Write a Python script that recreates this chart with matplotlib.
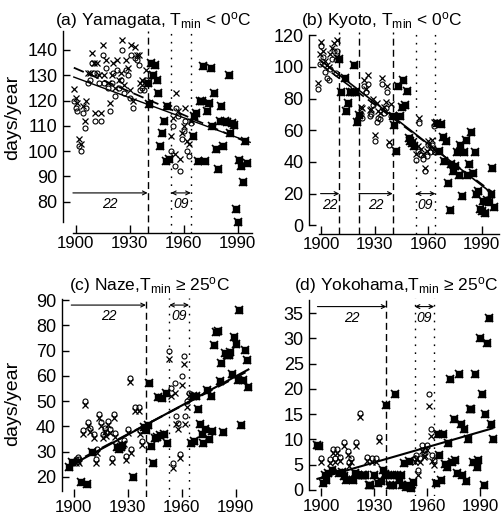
import numpy as np
import matplotlib.pyplot as plt

plt.rcParams['font.family'] = ['Liberation Sans', 'DejaVu Sans']
plt.rcParams['mathtext.fontset'] = 'custom'
plt.rcParams['mathtext.rm'] = 'Liberation Sans'
plt.rcParams['mathtext.it'] = 'Liberation Sans:italic'

# ---------------- (a) Yamagata, Tmin < 0 C ----------------
a_yrs1 = np.arange(1899, 1940)
a_x1 = [124.5, 121, 119, 105, 103, 118, 112, 120, 131, 131, 139, 135, 115, 135, 130,
        115, 142, 130, 136, 127, 119, 130, 135, 125, 136, 128, 131, 144, 126, 136,
        133, 124, 142, 120, 141, 138, 138, 127, 128, 127, 132]
a_o1 = [120, 117, 116, 102, 100, 115, 109, 117, 127, 128, 135, 131, 112, 131, 127,
        112, 138, 127, 133, 125, 116, 127, 131, 122, 132, 125, 128, 140, 123, 132,
        130, 121, 138, 117, 137, 136, 134, 124, 125, 124, 128]
a_yrs2 = np.arange(1953, 1965)
a_x2 = [106, 113, 99, 123, 116, 97, 107, 110, 117, 104, 103, 112]
a_o2 = [100, 110, 94, 117, 114, 92, 105, 108, 112, 100, 98, 111]
a_sq_yrs = list(range(1940, 1953)) + list(range(1965, 1996))
a_sq = [127, 118.5, 135, 130, 134, 128, 123, 102, 107, 112, 96, 118, 97,
        106, 114, 115, 96, 120, 120, 133.5, 96, 116, 119, 133, 110, 123, 101, 93,
        112, 118, 102, 112, 111.5, 130, 107, 111, 110.5, 77, 72, 96.5, 94, 88, 104, 95.5]
a_trend_yrs = [1899, 1997]
a_trend_solid = [129.3, 103.5]
a_trend_dash = [133, 103]

# ---------------- (b) Kyoto, Tmin < 0 C ----------------
b_yrs1 = list(range(1898, 1910)) + list(range(1922, 1940))
b_x1 = [90, 108, 116, 110, 104, 101, 100, 108, 112, 115, 106, 117,
        75, 74, 92, 86, 95, 73, 73.5, 80, 57, 77, 72, 71, 93, 75, 78, 88, 52.5, 76.5]
b_o1 = [86, 102, 113, 106, 97, 93, 92, 99, 105, 110, 96, 110,
        70, 68, 88, 84, 89, 69, 70, 76, 53, 65, 68, 67, 89, 71, 74, 84, 51, 69]
b_yrs2 = np.arange(1953, 1965)
b_x2 = [45, 50, 67.5, 48, 45, 36, 47, 53, 49, 54, 65, 47]
b_o2 = [41.5, 47, 64.5, 44.5, 42, 34, 44, 51, 46, 51, 62.5, 46]
b_sq_yrs = ([1910, 1911, 1913, 1914, 1915, 1916, 1917, 1918, 1919, 1920, 1921]
            + list(range(1940, 1953)) + list(range(1965, 1998)))
b_sq = [105, 84, 93, 72, 77, 84, 84, 101.5, 84, 65.5, 69.5,
        69, 63.5, 47, 88, 69, 75, 92, 76, 85, 55, 53, 52, 50,
        64.5, 47, 64, 56, 40.5, 53.5, 27, 9.5, 38.5, 34.5, 37.5, 46, 32, 51, 18.5, 46,
        54, 32, 38.5, 59, 33, 46, 19.5, 21.5, 10, 9, 15.5, 8, 16, 14.5, 20, 36, 11.5]
b_trend_yrs = [1899, 1996]
b_trend_solid = [104.5, 20]
b_trend_dash = [102, 21]

# ---------------- (c) Naze, Tmin >= 25 C ----------------
c_yrs1 = [1901, 1902, 1903, 1905, 1906, 1908, 1909, 1911, 1912, 1913, 1914, 1915,
          1916, 1917, 1918, 1919, 1920, 1921, 1922, 1923, 1928, 1929, 1930, 1931,
          1932, 1934, 1936, 1937, 1938]
c_x1 = [25.3, 26.4, 25.5, 36.9, 48.4, 40.1, 37.8, 35.2, 25.3, 29.3, 43.1, 40.1,
        35.2, 37.8, 36, 40.5, 37.2, 26, 43.1, 35.8, 33, 26.6, 37.4, 57.6,
        29.3, 46.1, 46.1, 37, 32.5]
c_o1 = [27, 28, 27, 38.5, 50, 41.7, 39.4, 36.8, 27, 31, 44.7, 41.7,
        36.8, 39.4, 37.6, 42, 38.8, 27.6, 44.7, 37.4, 34.6, 28.2, 39, 59.2,
        31, 47.7, 47.7, 38.6, 34]
c_yrs2 = np.arange(1953, 1965)
c_x2 = [66.5, 52, 23.5, 53, 41, 39, 27.5, 56.5, 64.5, 41, 47.5, 52]
c_o2 = [70, 55, 25.5, 57, 44, 41.5, 29, 60, 68, 44, 50, 53]
c_sq_yrs = ([1897, 1899, 1904, 1907, 1910, 1924, 1925, 1926, 1927, 1933, 1939]
            + list(range(1940, 1953)) + list(range(1965, 1998)))
c_sq = [24, 26, 18, 17.3, 30, 31.9, 31.2, 31.9, 32.5, 19.8, 39.8,
        38.5, 40.5, 57.2, 32.2, 25.3, 35.5, 35.8, 51.7, 36.5, 51.4, 36.9, 53, 33.2,
        33.5, 52, 34, 52, 47, 41, 37, 33.2, 39, 54.3, 35, 52, 38, 72.2, 77.4, 77.8,
        58, 65.2, 37.8, 68.9, 68.2, 68.2, 69.5, 60.9, 75.5, 72.6, 58.5, 86, 40.5,
        58.3, 70.2, 66.2, 55.6]
c_trend_yrs = [1897, 1997]
c_trend_solid = [24, 62.5]
c_trend_dash = [24.5, 62]

# ---------------- (d) Yokohama, Tmin >= 25 C ----------------
d_yrs1 = [1900, 1905, 1907, 1908, 1909, 1911, 1913, 1915, 1916, 1917, 1920, 1922,
          1926, 1929, 1931, 1933]
d_x1 = [5.6, 5.4, 7.4, 5.6, 7.4, 5.8, 8.7, 6.9, 4.8, 5.6, 8.7, 14.4,
        5.8, 5.6, 5.6, 9.6]
d_o1 = [6.4, 6.2, 8.2, 6.4, 8.2, 6.6, 9.5, 7.7, 5.6, 6.4, 9.5, 15.2,
        6.6, 6.4, 6.4, 10.4]
d_yrs2 = np.arange(1953, 1965)
d_x2 = [5.5, 6.2, 3, 5.6, 7.8, 6.5, 6.8, 8, 16.6, 10.6, 5.8, 5]
d_o2 = [6.3, 7, 4, 6.4, 8.9, 7.3, 7.9, 8.9, 19, 12, 7, 6]
d_sq_yrs = ([1898, 1899, 1901, 1902, 1903, 1904, 1906, 1910, 1912, 1913, 1914, 1918,
             1919, 1921, 1923, 1924, 1925, 1927, 1928, 1930, 1932, 1934, 1935, 1936]
            + list(range(1937, 1953)) + list(range(1965, 1998)))
d_sq = [8.9, 8.7, 1.3, 3, 2, 3.4, 4, 3.4, 3.6, 2.8, 2, 2,
        3.3, 3, 3, 3, 3, 1, 1, 3, 1.3, 1.7, 4, 3.2,
        16.8, 3, 1, 2.9, 1, 19, 3, 2, 3, 1, 5.3, 0.5, 1, 5.7, 0.3, 1.5,
        1.3, 11, 7, 2, 11, 5.2, 4.5, 9.3, 22, 5.5, 14, 6, 3.3, 23, 13, 3, 12, 1.7,
        10, 16, 16, 5.5, 23, 4.5, 6, 30, 19, 1, 15, 29, 34, 13, 10]
d_trend_yrs = [1898, 1997]
d_trend_solid = [2.2, 12.2]

FIG_W, FIG_H = 501, 520
fig = plt.figure(figsize=(FIG_W / 100, FIG_H / 100), dpi=100)


def box(x0, x1, y_top, y_bot):
    return [x0 / FIG_W, 1 - y_bot / FIG_H, (x1 - x0) / FIG_W, (y_bot - y_top) / FIG_H]


def draw_marks(ax, yrs1, x1, o1, yrs2, x2, o2, sq_yrs, sq):
    for yy, xx, oo in [(yrs1, x1, o1), (yrs2, x2, o2)]:
        ax.plot(yy, oo, 'o', ms=3.6, mfc='none', mec='k', mew=0.8)
        ax.plot(yy, xx, 'x', ms=4.8, mec='k', mew=0.9)
    ax.plot(sq_yrs, sq, 's', ms=3.8, color='k')
    ax.plot(sq_yrs, sq, 'x', ms=5.6, mec='k', mew=1.2)


def setup(ax, xlim, ylim, ybounds, yticks, moves, bottom_line=True):
    ax.set_xlim(*xlim)
    ax.set_ylim(*ylim)
    for s in ['top', 'right']:
        ax.spines[s].set_visible(False)
    ax.spines['left'].set_bounds(*ybounds)
    ax.spines['left'].set_linewidth(1.0)
    ax.spines['bottom'].set_bounds(1898.5, xlim[1])
    ax.spines['bottom'].set_linewidth(1.0)
    if not bottom_line:
        ax.spines['bottom'].set_visible(False)
    ax.set_xticks([1900, 1930, 1960, 1990])
    ax.set_yticks(yticks)
    ax.tick_params(axis='x', direction='in', length=6, width=1, pad=2, labelsize=12.2)
    ax.tick_params(axis='y', direction='in', length=5, width=1, pad=4, labelsize=13)
    ax.patch.set_alpha(0)
    for m in moves:
        ax.axvline(m, color='k', lw=1, dashes=(5, 3))
    for w in [1953, 1964]:
        ax.axvline(w, color='k', lw=1, dashes=(1.2, 4.5))


def arrow(ax, x0, x1, y, label, both=False):
    ax.annotate('', xy=(x1, y), xytext=(x0, y),
                arrowprops=dict(arrowstyle='<->' if both else '->', lw=0.8, color='k',
                                shrinkA=0, shrinkB=0, mutation_scale=7))
    ax.annotate(label, xy=((x0 + x1) / 2, y), xytext=(0, -8), textcoords='offset points',
                ha='center', va='center', fontsize=10, style='italic')


# (a)
ax = fig.add_axes(box(63, 252, 31, 233.4))
setup(ax, (1893, 1998), (67.5, 147.5), (72, 147.5), range(80, 141, 10), [1940])
draw_marks(ax, a_yrs1, a_x1, a_o1, a_yrs2, a_x2, a_o2, a_sq_yrs, a_sq)
ax.plot(a_trend_yrs, a_trend_solid, color='k', lw=1.0)
ax.plot(a_trend_yrs, a_trend_dash, color='k', lw=1.3, dashes=(6, 3))
arrow(ax, 1898.5, 1940, 83.5, '22')
arrow(ax, 1953, 1964, 83.5, '09', both=True)

# (b)
ax = fig.add_axes(box(309, 499.5, 32.1, 234))
setup(ax, (1893, 2000), (-5.5, 122), (0, 120), range(0, 121, 20), [1910, 1921, 1940])
draw_marks(ax, b_yrs1, b_x1, b_o1, b_yrs2, b_x2, b_o2, b_sq_yrs, b_sq)
ax.plot(b_trend_yrs, b_trend_solid, color='k', lw=1.2)
ax.plot(b_trend_yrs, b_trend_dash, color='k', lw=1.2, dashes=(6, 3))
arrow(ax, 1899.5, 1910, 20, '22')
arrow(ax, 1921, 1940, 20, '22')
arrow(ax, 1953, 1964, 20, '09', both=True)

# (c)
ax = fig.add_axes(box(61.7, 252, 297.5, 497))
setup(ax, (1893.2, 1999), (12, 91), (14.5, 90.5), range(20, 91, 10), [1940],
      bottom_line=False)
draw_marks(ax, c_yrs1, c_x1, c_o1, c_yrs2, c_x2, c_o2, c_sq_yrs, c_sq)
ax.plot(c_trend_yrs, c_trend_solid, color='k', lw=1.5)
ax.plot(c_trend_yrs, c_trend_dash, color='k', lw=1.5, dashes=(6, 3))
arrow(ax, 1898.5, 1940, 88, '22')
arrow(ax, 1953, 1964, 88, '09', both=True)

# (d)
ax = fig.add_axes(box(309.3, 500.5, 298, 496))
setup(ax, (1893.4, 2001.5), (-1.2, 38), (0, 37.6), range(0, 36, 5), [1937],
      bottom_line=False)
draw_marks(ax, d_yrs1, d_x1, d_o1, d_yrs2, d_x2, d_o2, d_sq_yrs, d_sq)
ax.plot(d_trend_yrs, d_trend_solid, color='k', lw=1.5)
arrow(ax, 1898, 1937, 36.3, '22')
arrow(ax, 1953, 1964, 36.3, '09', both=True)

# titles and y labels
fig.text(153 / FIG_W, 1 - 25 / FIG_H, r'(a) Yamagata, T$_{\rm min}$ < 0$^{\rm o}$C',
         ha='center', va='baseline', fontsize=12.5)
fig.text(382 / FIG_W, 1 - 25 / FIG_H, r'(b) Kyoto, T$_{\rm min}$ < 0$^{\rm o}$C',
         ha='center', va='baseline', fontsize=12.5)
fig.text(150 / FIG_W, 1 - 290 / FIG_H, r'(c) Naze,T$_{\rm min}$ ≥ 25$^{\rm o}$C',
         ha='center', va='baseline', fontsize=12.5)
fig.text(396 / FIG_W, 1 - 290 / FIG_H, r'(d) Yokohama,T$_{\rm min}$ ≥ 25$^{\rm o}$C',
         ha='center', va='baseline', fontsize=12.5)
fig.text(12.5 / FIG_W, 1 - 117 / FIG_H, 'days/year', rotation=90,
         ha='center', va='center', fontsize=14)
fig.text(12.5 / FIG_W, 1 - 403 / FIG_H, 'days/year', rotation=90,
         ha='center', va='center', fontsize=14)

fig.savefig('out.png', dpi=100, facecolor='white')
